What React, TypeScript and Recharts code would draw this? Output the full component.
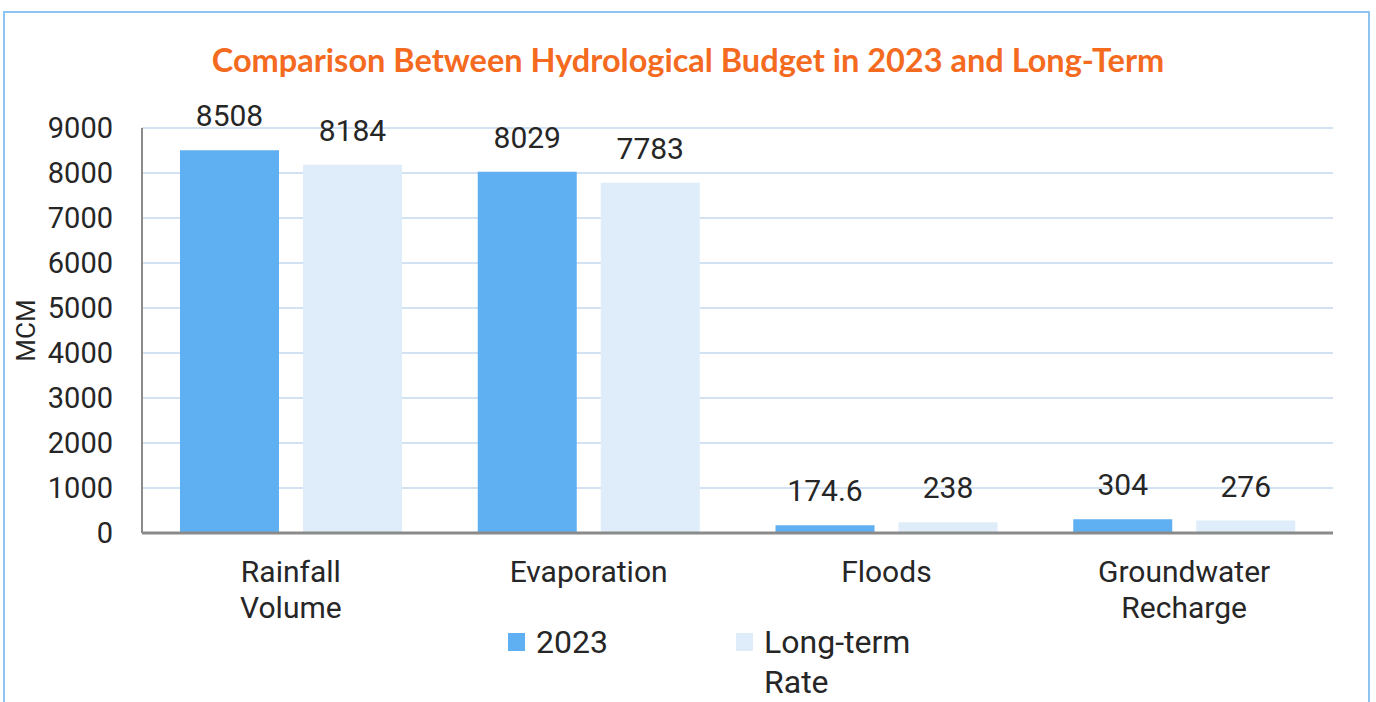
import React from 'react';
import { BarChart, Bar, XAxis, YAxis, CartesianGrid, Legend, LabelList, Label } from 'recharts';

const categories = ['Rainfall Volume', 'Evaporation', 'Floods', 'Groundwater Recharge'];
const values2023 = [8508, 8029, 174.6, 304];
const valuesLongTerm = [8184, 7783, 238, 276];
const yTicks = [0, 1000, 2000, 3000, 4000, 5000, 6000, 7000, 8000, 9000];
const seriesNames = ['2023', 'Long-term Rate'];
const seriesColors = ['#5FB0F2', '#DEEDF9'];
const titleText = 'Comparison Between Hydrological Budget in 2023 and Long-Term';
const yAxisTitle = 'MCM';

const data = categories.map((c, i) => ({
  category: c,
  y2023: values2023[i],
  longTerm: valuesLongTerm[i],
}));

const FONT = 'Roboto, "Noto Sans", sans-serif';
const TEXT = '#262626';

const CategoryTick = (props: any) => {
  const { x, y, payload } = props;
  const words = String(payload.value).split(' ');
  return (
    <text x={x} y={y} textAnchor="middle" fill={TEXT} fontSize={30} fontFamily={FONT}>
      {words.map((w, i) => (
        <tspan key={i} x={x} y={y + 49 + i * 36}>
          {w}
        </tspan>
      ))}
    </text>
  );
};

const renderLegend = () => (
  <div style={{ display: 'flex', fontFamily: FONT, fontSize: 32, color: TEXT }}>
    {seriesNames.map((n, i) => (
      <div key={n} style={{ display: 'flex', alignItems: 'flex-start', width: 228 }}>
        <div style={{ width: 17, height: 18, background: seriesColors[i], marginTop: 11, marginRight: 11, flex: 'none' }} />
        <div style={{ lineHeight: '40px', width: 160 }}>{n}</div>
      </div>
    ))}
  </div>
);

export default function App() {
  return (
    <div style={{ position: 'absolute', left: 0, top: 0, width: 1376, height: 702, background: '#fff', overflow: 'hidden' }}>
      <div
        style={{
          position: 'absolute',
          left: 3,
          top: 11,
          width: 1363,
          height: 700,
          border: '2px solid #8EC3F2',
          borderBottom: 'none',
        }}
      />
      <div
        style={{
          position: 'absolute',
          left: 0,
          top: 40,
          width: 1376,
          textAlign: 'center',
          fontFamily: 'Lato, "Open Sans", sans-serif',
          fontWeight: 700,
          fontSize: 32.5,
          lineHeight: '40px',
          color: '#F46A1F',
        }}
      >
        {titleText}
      </div>
      <div style={{ position: 'absolute', left: 0, top: 0 }}>
        <BarChart
          width={1376}
          height={702}
          data={data}
          margin={{ top: 128, right: 43, bottom: 0, left: 0 }}
          barCategoryGap={38}
          barGap={24}
        >
          <CartesianGrid horizontal vertical={false} stroke="#D3E2F3" strokeWidth={2} />
          <XAxis
            dataKey="category"
            height={169}
            tick={<CategoryTick />}
            tickLine={false}
            tickSize={0}
            tickMargin={0}
            axisLine={{ stroke: '#8A8A8A', strokeWidth: 3 }}
            interval={0}
          />
          <YAxis
            width={142}
            domain={[0, 9000]}
            ticks={yTicks}
            tickLine={false}
            tickSize={0}
            tickMargin={29}
            axisLine={{ stroke: '#8A8A8A', strokeWidth: 2 }}
            tick={{ fill: TEXT, fontSize: 29, fontFamily: FONT }}
            interval={0}
          >
            <Label
              content={(props: any) => {
                const vb = props.viewBox || { y: 128, height: 405 };
                const cx = 26;
                const cy = vb.y + vb.height / 2;
                return (
                  <text
                    x={cx}
                    y={cy}
                    transform={`rotate(-90 ${cx} ${cy})`}
                    textAnchor="middle"
                    dominantBaseline="central"
                    fontSize={26}
                    fill={TEXT}
                    fontFamily={FONT}
                  >
                    {yAxisTitle}
                  </text>
                );
              }}
            />
          </YAxis>
          <Legend
            layout="horizontal"
            verticalAlign="middle"
            align="center"
            width={520}
            wrapperStyle={{ top: 622, left: 508, width: 520 }}
            content={renderLegend}
          />
          <Bar dataKey="y2023" name={seriesNames[0]} fill={seriesColors[0]} isAnimationActive={false}>
            <LabelList dataKey="y2023" position="top" offset={24} fill={TEXT} fontSize={30} fontFamily={FONT} />
          </Bar>
          <Bar dataKey="longTerm" name={seriesNames[1]} fill={seriesColors[1]} isAnimationActive={false}>
            <LabelList dataKey="longTerm" position="top" offset={24} fill={TEXT} fontSize={30} fontFamily={FONT} />
          </Bar>
        </BarChart>
      </div>
    </div>
  );
}
